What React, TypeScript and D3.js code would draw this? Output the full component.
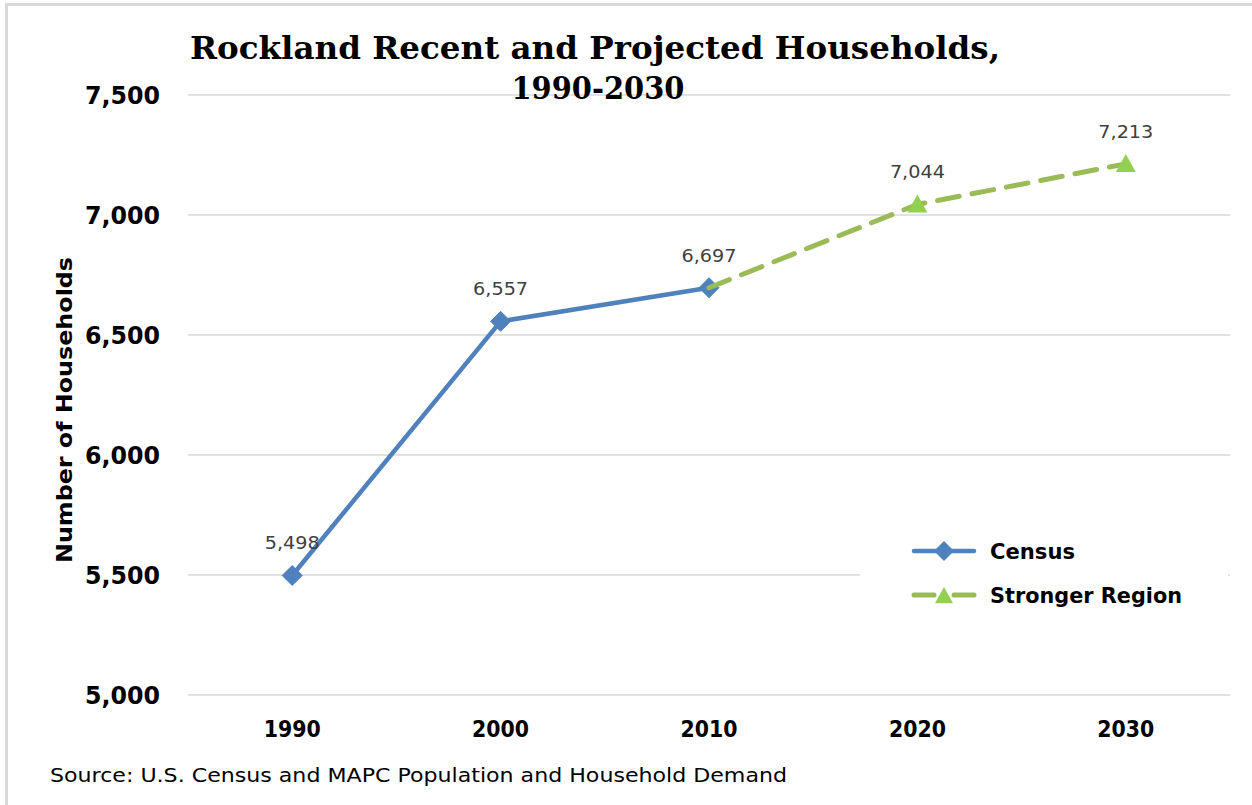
import React from 'react';
import * as d3 from 'd3';

const years: string[] = ['1990', '2000', '2010', '2020', '2030'];
const censusValues: (number | null)[] = [5498, 6557, 6697, null, null];
const strongerValues: (number | null)[] = [null, null, 6697, 7044, 7213];
const yTicks: number[] = [5000, 5500, 6000, 6500, 7000, 7500];
const titleLines: string[] = ['Rockland Recent and Projected Households,', '1990-2030'];
const seriesNames: string[] = ['Census', 'Stronger Region'];
const yAxisTitle = 'Number of Households';
const sourceText = 'Source: U.S. Census and MAPC Population and Household Demand';

const W = 1252;
const H = 805;
const SANS = "'DejaVu Sans', 'Open Sans', sans-serif";
const SERIF = "'DejaVu Serif', 'Liberation Serif', serif";
const BLUE = '#4F81BD';
const GREEN_LINE = '#9BBB59';
const GREEN_MARK = '#92D050';

export default function App() {
  const x = d3.scaleBand<string>().domain(years).range([188, 1230]);
  const y = d3.scaleLinear().domain([5000, 7500]).range([695, 95]);
  const cx = (yr: string) => (x(yr) as number) + x.bandwidth() / 2;
  const fmt = d3.format(',');

  const censusPts = years
    .map((yr, i) => ({ yr, v: censusValues[i] }))
    .filter((d) => d.v !== null) as { yr: string; v: number }[];
  const strongerPts = years
    .map((yr, i) => ({ yr, v: strongerValues[i] }))
    .filter((d) => d.v !== null) as { yr: string; v: number }[];

  const line = d3
    .line<{ yr: string; v: number }>()
    .x((d) => cx(d.yr))
    .y((d) => y(d.v));

  const diamond = (px: number, py: number, r: number) =>
    `M${px},${py - r}L${px + r},${py}L${px},${py + r}L${px - r},${py}Z`;
  const triangle = (px: number, py: number, r: number) =>
    `M${px},${py - r}L${px + r},${py + r * 0.8}L${px - r},${py + r * 0.8}Z`;

  return (
    <svg
      width={W}
      height={H}
      style={{ position: 'absolute', left: 0, top: 0, background: '#fff' }}
    >
      <rect x={0} y={0} width={W} height={H} fill="#fff" />
      {/* frame */}
      <rect x={6.5} y={4.5} width={W + 20} height={H + 20} fill="none" stroke="#d9d9d9" strokeWidth={3} />

      {/* gridlines */}
      {yTicks.map((t) => (
        <line key={t} x1={188} x2={1230} y1={y(t)} y2={y(t)} stroke="#d9d9d9" strokeWidth={1.3} />
      ))}

      {/* y tick labels */}
      {yTicks.map((t) => (
        <text
          key={'l' + t}
          x={160}
          y={y(t)}
          dy="0.36em"
          textAnchor="end"
          fontFamily={SANS}
          fontWeight="bold"
          fontSize={25}
          fill="#000"
          textLength={75}
          lengthAdjust="spacingAndGlyphs"
        >
          {fmt(t)}
        </text>
      ))}

      {/* x tick labels */}
      {years.map((yr) => (
        <text
          key={yr}
          x={cx(yr)}
          y={737}
          textAnchor="middle"
          fontFamily={SANS}
          fontWeight="bold"
          fontSize={23}
          fill="#000"
          textLength={57}
          lengthAdjust="spacingAndGlyphs"
        >
          {yr}
        </text>
      ))}

      {/* y axis title */}
      <text
        transform={`translate(72,410) rotate(-90)`}
        textAnchor="middle"
        fontFamily={SANS}
        fontWeight="bold"
        fontSize={22}
        fill="#000"
        textLength={306}
        lengthAdjust="spacingAndGlyphs"
      >
        {yAxisTitle}
      </text>

      {/* title */}
      <text x={595} y={59} textAnchor="middle" fontFamily={SERIF} fontWeight="bold" fontSize={31} fill="#000" textLength={810} lengthAdjust="spacingAndGlyphs">
        {titleLines[0]}
      </text>
      <text x={598} y={99} textAnchor="middle" fontFamily={SERIF} fontWeight="bold" fontSize={31} fill="#000" textLength={173} lengthAdjust="spacingAndGlyphs">
        {titleLines[1]}
      </text>

      {/* legend background */}
      <rect x={860} y={528} width={368} height={90} fill="#fff" />

      {/* census line */}
      <path d={line(censusPts) || ''} fill="none" stroke={BLUE} strokeWidth={4.5} strokeLinejoin="round" />
      {censusPts.map((d) => (
        <path key={'cm' + d.yr} d={diamond(cx(d.yr), y(d.v), 10)} fill={BLUE} stroke={BLUE} strokeWidth={1} />
      ))}

      {/* stronger region line */}
      <path
        d={line(strongerPts) || ''}
        fill="none"
        stroke={GREEN_LINE}
        strokeWidth={5}
        strokeDasharray="22 13"
        strokeLinecap="round"
      />
      {strongerPts.slice(1).map((d) => (
        <path key={'sm' + d.yr} d={triangle(cx(d.yr), y(d.v), 10)} fill={GREEN_MARK} />
      ))}

      {/* data labels */}
      {censusPts.map((d) => (
        <text key={'cl' + d.yr} x={cx(d.yr)} y={y(d.v) - 26} textAnchor="middle" fontFamily={SANS} fontSize={18} fill="#404040" textLength={55} lengthAdjust="spacingAndGlyphs">
          {fmt(d.v)}
        </text>
      ))}
      {strongerPts.slice(1).map((d) => (
        <text key={'sl' + d.yr} x={cx(d.yr)} y={y(d.v) - 26} textAnchor="middle" fontFamily={SANS} fontSize={18} fill="#404040" textLength={55} lengthAdjust="spacingAndGlyphs">
          {fmt(d.v)}
        </text>
      ))}

      {/* legend */}
      <g>
        <line x1={914} x2={974} y1={551} y2={551} stroke={BLUE} strokeWidth={4.5} strokeLinecap="round" />
        <path d={diamond(944, 551, 10)} fill={BLUE} />
        <text x={990} y={551} dy="0.36em" fontFamily={SANS} fontWeight="bold" fontSize={21} fill="#000" textLength={85} lengthAdjust="spacingAndGlyphs">
          {seriesNames[0]}
        </text>
        <line x1={914} x2={934} y1={595} y2={595} stroke={GREEN_LINE} strokeWidth={5} strokeLinecap="round" />
        <line x1={954} x2={974} y1={595} y2={595} stroke={GREEN_LINE} strokeWidth={5} strokeLinecap="round" />
        <path d={triangle(944, 596, 9)} fill={GREEN_MARK} />
        <text x={990} y={595} dy="0.36em" fontFamily={SANS} fontWeight="bold" fontSize={21} fill="#000" textLength={192} lengthAdjust="spacingAndGlyphs">
          {seriesNames[1]}
        </text>
      </g>

      {/* source */}
      <text x={50} y={782} fontFamily={SANS} fontSize={20} fill="#000" textLength={737} lengthAdjust="spacingAndGlyphs">
        {sourceText}
      </text>
    </svg>
  );
}
